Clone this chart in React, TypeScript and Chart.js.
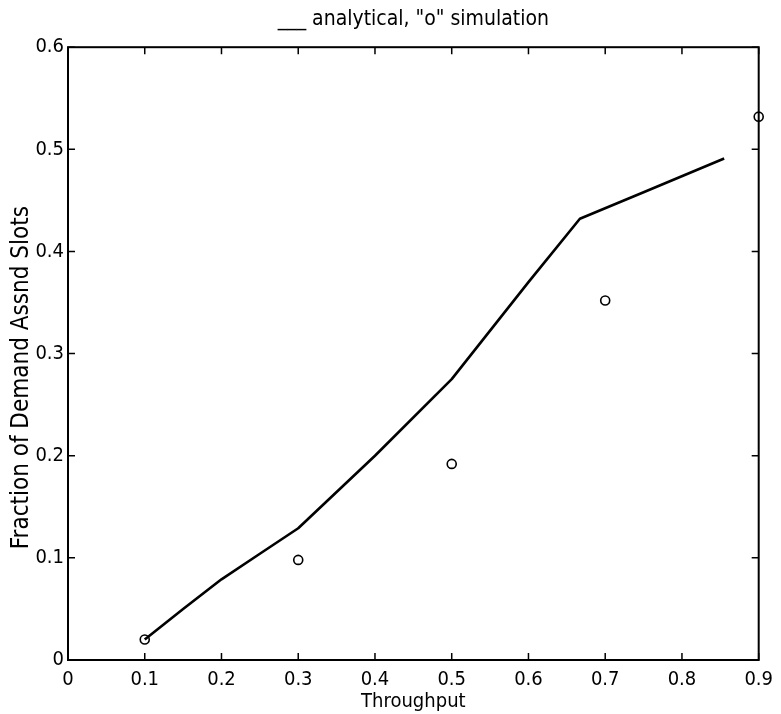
import React, { useEffect, useRef } from "react";
import { Chart, registerables } from "chart.js";

Chart.register(...registerables);

// Analytical curve (solid line)
const analyticalX = [0.1, 0.15, 0.2, 0.25, 0.3, 0.4, 0.5, 0.6, 0.667, 0.75, 0.855];
const analyticalY = [0.02, 0.05, 0.079, 0.104, 0.129, 0.2, 0.275, 0.37, 0.432, 0.458, 0.491];

// Simulation points ("o")
const simX = [0.1, 0.3, 0.5, 0.7, 0.9];
const simY = [0.02, 0.098, 0.192, 0.352, 0.532];

const xTicks = [0, 0.1, 0.2, 0.3, 0.4, 0.5, 0.6, 0.7, 0.8, 0.9];
const yTicks = [0, 0.1, 0.2, 0.3, 0.4, 0.5, 0.6];

const titleText = '___ analytical, "o" simulation';
const xTitle = "Throughput";
const yTitle = "Fraction of Demand Assnd Slots";

const FONT = "'Liberation Sans Narrow', 'DejaVu Sans Condensed', 'Liberation Sans', Arial, sans-serif";

const framePlugin = {
  id: "frame",
  afterDraw(chart: any) {
    const { ctx, chartArea } = chart;
    const xs = chart.scales.x;
    const ys = chart.scales.y;
    const { left, right, top, bottom } = chartArea;
    ctx.save();
    ctx.strokeStyle = "#000";
    ctx.lineWidth = 2;
    ctx.strokeRect(left, top, right - left, bottom - top);
    const tl = 7;
    ctx.lineWidth = 1.5;
    ctx.beginPath();
    xTicks.forEach((v) => {
      const px = xs.getPixelForValue(v);
      ctx.moveTo(px, bottom);
      ctx.lineTo(px, bottom - tl);
      ctx.moveTo(px, top);
      ctx.lineTo(px, top + tl);
    });
    yTicks.forEach((v) => {
      const py = ys.getPixelForValue(v);
      ctx.moveTo(left, py);
      ctx.lineTo(left + tl, py);
      ctx.moveTo(right, py);
      ctx.lineTo(right - tl, py);
    });
    ctx.stroke();
    ctx.restore();
  },
};

export default function App() {
  const ref = useRef<HTMLCanvasElement | null>(null);
  useEffect(() => {
    if (!ref.current) return;
    const chart = new Chart(ref.current, {
      type: "scatter",
      data: {
        datasets: [
          {
            label: "analytical",
            data: analyticalX.map((x, i) => ({ x, y: analyticalY[i] })),
            showLine: true,
            borderColor: "#000",
            borderWidth: 2.6,
            pointRadius: 0,
            tension: 0,
            borderJoinStyle: "round",
            clip: false as any,
          },
          {
            label: "simulation",
            data: simX.map((x, i) => ({ x, y: simY[i] })),
            showLine: false,
            pointStyle: "circle",
            pointRadius: 4.5,
            borderColor: "#000",
            borderWidth: 1.6,
            backgroundColor: "rgba(0,0,0,0)",
            clip: false as any,
          },
        ],
      },
      options: {
        animation: false,
        responsive: false,
        maintainAspectRatio: false,
        layout: { padding: { left: 0, right: 19, top: 0, bottom: 0 } },
        plugins: {
          legend: { display: false },
          tooltip: { enabled: false },
          title: {
            display: true,
            text: titleText,
            fullSize: false,
            color: "#000",
            font: { family: FONT, size: 21, weight: "normal", lineHeight: 1.2 },
            padding: { top: 7, bottom: 15 },
          },
        },
        scales: {
          x: {
            type: "linear",
            min: 0,
            max: 0.9,
            afterFit(scale: any) {
              scale.height = 54;
            },
            afterBuildTicks(scale: any) {
              scale.ticks = xTicks.map((v) => ({ value: v }));
            },
            grid: { display: false, drawTicks: false },
            border: { display: false },
            ticks: {
              color: "#000",
              padding: 8,
              maxRotation: 0,
              autoSkip: false,
              font: { family: FONT, size: 20 },
              callback: (v: any) => String(Number(v)),
            },
            title: {
              display: true,
              text: xTitle,
              color: "#000",
              font: { family: FONT, size: 20, lineHeight: 1.2 },
              padding: 0,
            },
          },
          y: {
            type: "linear",
            min: 0,
            max: 0.6,
            afterFit(scale: any) {
              scale.width = 68;
            },
            afterBuildTicks(scale: any) {
              scale.ticks = yTicks.map((v) => ({ value: v }));
            },
            grid: { display: false, drawTicks: false },
            border: { display: false },
            ticks: {
              color: "#000",
              padding: 4,
              autoSkip: false,
              font: { family: FONT, size: 20 },
              callback: (v: any) => String(Number(v)),
            },
            title: {
              display: true,
              text: yTitle + "       ",
              color: "#000",
              font: { family: FONT, size: 24, lineHeight: 1.2 },
              padding: { top: 7, bottom: 0 },
            },
          },
        },
      },
      plugins: [framePlugin],
    });
    return () => chart.destroy();
  }, []);
  return (
    <div style={{ position: "absolute", left: 0, top: 0, width: 781, height: 714, background: "#fff" }}>
      <canvas ref={ref} width={781} height={714} style={{ width: 781, height: 714, display: "block" }} />
    </div>
  );
}
